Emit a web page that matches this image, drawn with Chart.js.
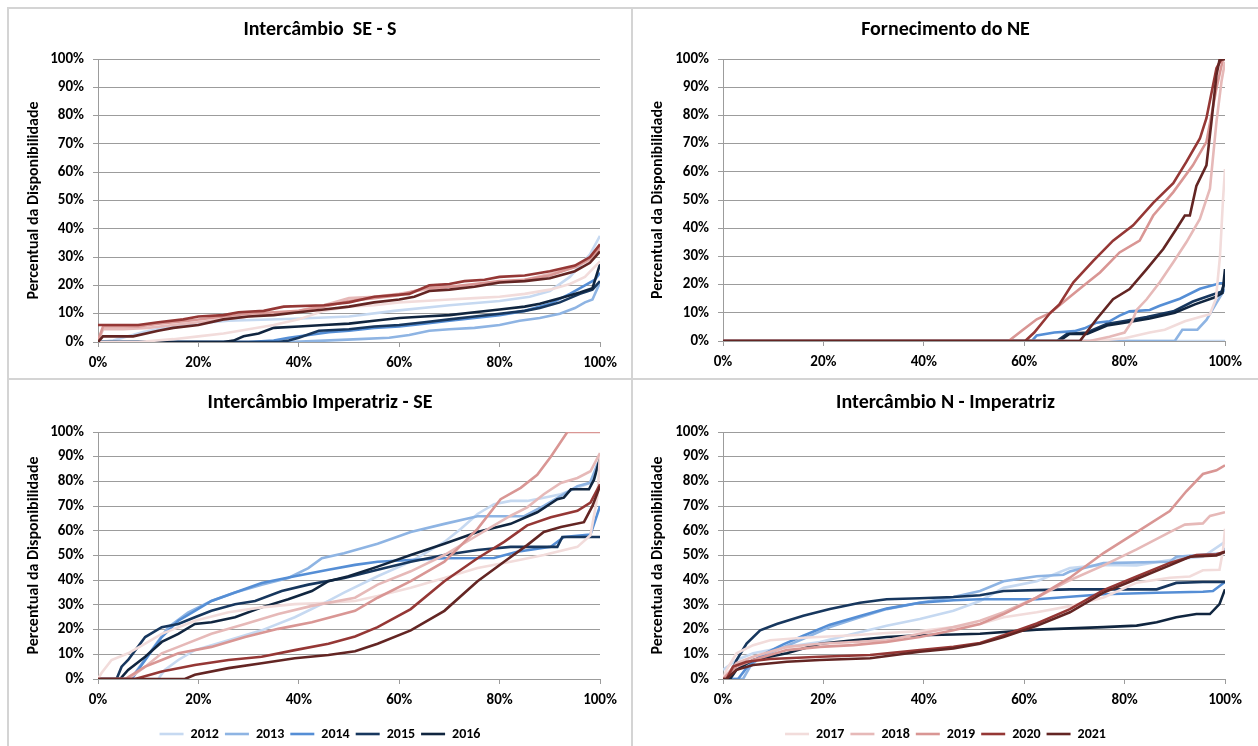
<!DOCTYPE html>
<html><head><meta charset="utf-8">
<script src="https://cdn.jsdelivr.net/npm/chart.js@4.4.1/dist/chart.umd.min.js"></script>
<style>
html,body{margin:0;padding:0;background:#fff;}
#wrap{position:relative;width:1258px;height:746px;overflow:hidden;background:#fff;}
.pnl{position:absolute;}
.ln{position:absolute;background:#d4d4d4;}
</style></head><body>
<div id="wrap">
 <div class="ln" style="left:7px;top:7px;width:1251px;height:2px"></div>
 <div class="ln" style="left:7px;top:7px;width:2px;height:739px"></div>
 <div class="ln" style="left:631px;top:7px;width:2px;height:739px"></div>
 <div class="ln" style="left:7px;top:378px;width:1251px;height:2px"></div>
 <div class="pnl" style="left:9px;top:9px"><canvas id="c0" width="622" height="369"></canvas></div>
 <div class="pnl" style="left:633px;top:9px"><canvas id="c1" width="625" height="369"></canvas></div>
 <div class="pnl" style="left:9px;top:380px"><canvas id="c2" width="622" height="366"></canvas></div>
 <div class="pnl" style="left:633px;top:380px"><canvas id="c3" width="625" height="366"></canvas></div>
</div>
<script>
const years = ['2012','2013','2014','2015','2016','2017','2018','2019','2020','2021'];
const colors = ['#c6d9f1','#8eb4e3','#558ed5','#17375e','#10253f','#f2dcdb','#e6b9b8','#d99694','#953735','#632523'];
const titles = ['Intercâmbio  SE - S','Fornecimento do NE','Intercâmbio Imperatriz - SE','Intercâmbio N - Imperatriz'];
const yAxisTitle = 'Percentual da Disponibilidade';

// [x %, y %] points for each year, panel "Intercâmbio SE - S"
const seS = [
 [[0,0],[3,0.5],[9,3.5],[16,6],[26,7.5],[39,8.2],[50,9],[59,11],[70,13],[80,14.5],[86,16],[90,18],[94,23],[98,31],[100,37.5]],
 [[0,0],[38,0],[45,0.5],[52,1],[58,1.5],[62,2.5],[66,4],[70,4.5],[75,5],[80,6],[84,7.5],[88,8.5],[92,10],[95,12],[97,14],[98.5,15],[100,21]],
 [[0,0],[30,0],[35,0.5],[38,1.5],[42,2.5],[46,3.5],[50,4],[55,5],[60,5.5],[65,6.5],[70,7.5],[75,8.5],[80,9.5],[85,11],[90,13.5],[94,17],[97,20],[99,22],[100,24.5]],
 [[0,0],[36,0],[38,0.5],[40,1.5],[44,4],[50,4.5],[55,5.5],[60,6],[65,7],[70,8],[75,9],[80,10],[85,11],[88,12],[92,14],[96,17],[98.5,18.5],[100,21.5]],
 [[0,0],[25,0],[27,0.5],[29,2],[32,3],[35,5],[40,5.5],[45,6],[50,6.5],[55,7.5],[60,8.5],[65,9],[70,9.5],[75,10.5],[80,11.5],[85,12.5],[88,13.5],[92,15.5],[96,17.5],[98.5,19],[100,27.5]],
 [[0,0],[8,0],[15,1],[20,2],[25,3],[30,4.5],[35,6],[40,8],[45,11],[50,12.5],[55,13],[60,14],[65,14.5],[70,15],[75,15.5],[80,16],[85,17],[90,18.5],[94,20.5],[97,23],[100,28.5]],
 [[0,0],[1,4.5],[5,4.5],[10,5],[15,6],[20,7],[25,8],[30,9],[35,10],[40,11],[45,13],[50,15.5],[55,16],[60,17],[65,18.5],[70,19.5],[75,20],[80,21],[85,22],[90,24],[95,26.5],[98,29],[100,33]],
 [[0,0.5],[1,5.5],[8,5.5],[12,6.5],[18,7.5],[25,9],[30,10],[35,10.5],[40,11],[45,12.5],[50,14.5],[55,15.5],[60,16.5],[65,19],[70,19.5],[75,20.5],[80,21.5],[85,22],[90,23.5],[95,26.5],[98,29.5],[100,33.5]],
 [[0,6],[8,6],[12,7],[17,8],[20,9],[25,9.5],[28,10.5],[33,11],[37,12.5],[45,13],[50,14],[55,16],[62,17],[66,20],[70,20.5],[73,21.5],[77,22],[80,23],[85,23.5],[90,25],[95,27],[98,30],[100,34.5]],
 [[0,0],[1,2],[7,2],[12,4],[15,5],[20,6],[25,8],[30,9],[35,9.5],[40,10.5],[45,11.5],[50,12.5],[55,14],[60,15],[63,16],[66,18],[70,18.5],[75,19.5],[80,21],[85,21.5],[90,22.5],[95,25],[98,28],[100,32]]
];

// panel "Fornecimento do NE"
const fornNE = [
 [[0,0],[100,0]],
 [[0,0],[90,0],[91.5,4],[94.5,4],[96.3,7.5],[98.3,13.5],[100,18.5]],
 [[0,0],[61.5,0],[62.5,2],[66,3],[70,3.5],[72,4.5],[74.4,6.5],[77,7],[79,9],[81,10.5],[85,11],[87,12.5],[91,15],[95,18.5],[99,20.5],[100,20.5]],
 [[0,0],[66.5,0],[68.5,2.5],[72.5,3],[76.4,6],[79.7,7],[84.4,8.5],[89.7,10.5],[93.6,14],[97.6,16.5],[99.3,17.5],[100,21]],
 [[0,0],[67,0],[69,2.5],[72.5,2.5],[76.5,5.5],[80,6.5],[85,8],[90,10],[94,13],[98,15.5],[99.5,17],[100,25.5]],
 [[0,0],[74,0],[80,1],[85,3],[88,4],[92,7],[95,8.5],[97,9.5],[98.2,15],[99,30],[99.6,50],[100,61]],
 [[0,0],[73,0],[77,1.5],[80,3],[81.5,7],[82.4,11],[84.4,14.8],[87,20.8],[89.7,27.9],[92.3,35],[95,43.3],[97,54],[98.3,77.7],[99.3,92],[100,99]],
 [[0,0],[56.9,0],[59.9,4.2],[62.5,7.7],[65.2,10],[68.5,14.8],[71.8,19.6],[75.1,24.3],[79,31.4],[83,35.6],[85.7,44.5],[89.7,52.8],[93.6,62.3],[96.3,70.6],[98.3,89.6],[99.6,100],[100,100]],
 [[0,0],[60.2,0],[62,3],[65.2,10],[67,13],[69.8,20.8],[73.8,28.5],[77.7,35.6],[81.7,41],[85.7,49],[89.7,56],[92.3,63.5],[95,71.8],[96.3,79],[98.3,96.7],[99.3,100],[100,100]],
 [[0,0],[71.1,0],[74.4,7.7],[77.7,14.8],[81,18.4],[84.4,25.5],[87.7,32.6],[90.3,39.7],[92,44.5],[93,44.5],[94.3,55],[96.3,62.3],[97.3,77.7],[98.3,94.3],[98.9,99.6],[100,100]]
];

// panel "Intercâmbio Imperatriz - SE"
const impSE = [
 [[0,0],[12,0],[13.3,3.7],[16,7.7],[19.3,11.7],[26,15.7],[32.6,19.7],[39.2,25],[45.9,31.6],[49,35],[55.7,41.6],[62.3,47.5],[69,55.5],[72.3,60.8],[75.6,66.8],[78.9,70.8],[82.2,72.1],[85.5,72.1],[88.8,73.4],[92.2,74.8],[95.5,77.4],[98,79.4],[100,87]],
 [[0,0],[6.7,0],[7.4,2.4],[10.7,11.7],[14,21],[18,27],[22.6,31.6],[27.3,35],[32.6,38.2],[37.9,40.9],[41.9,44.9],[44.6,48.9],[49,50.9],[55.7,54.8],[62.3,59.5],[69,62.8],[75.6,65.9],[84.9,65.9],[88.8,70.1],[92.2,74.1],[95.5,78.1],[98,79.4],[99.5,87],[100,88]],
 [[0,0],[6.7,0],[9.4,7.7],[12.7,17],[16,23.6],[19.3,27.6],[22.6,31.6],[27.3,35],[32.6,38.9],[39.2,41.6],[45.9,44.2],[51.2,46.2],[55.7,47.5],[62.3,48.2],[69,48.9],[78.9,49],[83.5,51.5],[90.2,53.5],[92.8,57.5],[98.1,58.5],[100,70]],
 [[0,0],[3.7,0],[4.7,5],[6,7.7],[9.4,17],[12.7,21],[16,22.3],[19.3,25],[22.6,27.6],[27.3,30.3],[31.3,31.6],[36.6,35.6],[41.9,38.2],[47.2,40.2],[49.1,40.9],[55.7,44.2],[62.3,47.5],[69,50.2],[75.6,52.2],[82.2,53.5],[91.5,53.5],[92.5,57.5],[100,57.5]],
 [[0,0],[4.4,0],[6,3.7],[9.4,9],[12.7,15],[16,18.3],[19.3,22.3],[22.6,23],[27.3,25],[32.6,29],[37.9,32.3],[42.6,35.6],[45.9,39.6],[49.9,41.6],[55.7,45.5],[62.3,50.2],[69,54.8],[75.6,59.5],[82.2,62.8],[87.5,67.5],[91.5,72.8],[92.8,73.4],[94.2,76.8],[97.8,76.8],[98.8,80.7],[100,89.4]],
 [[0,0],[0.7,2.4],[2.7,7.7],[6,10.4],[9.4,14.3],[12.7,18.3],[19.3,23.6],[26,27],[32.6,29],[39.2,30.3],[45.9,30.9],[51.2,31.6],[55.7,33.6],[62.3,36.9],[69,40.9],[75.6,44.9],[82.2,47.5],[88.8,50.2],[95.5,53.5],[98.1,58.2],[99.5,74],[100,91]],
 [[0,0],[6,0],[9.4,5],[12.7,10.4],[16,13],[22.6,18.3],[29.3,22.3],[35.9,26.3],[42.6,29.6],[51.2,32.9],[55.7,38.2],[62.3,43.6],[69,50.2],[75.6,58.2],[78.9,62.2],[82.2,66.1],[85.5,69.5],[88.8,74.8],[92.2,79.4],[95.5,81.4],[98.1,84.1],[100,91.5]],
 [[0,0],[5.4,0],[9.4,5],[12.7,7.7],[16,10.4],[22.6,13],[29.3,17],[35.9,20.3],[42.6,23],[51.2,27.6],[55.7,32.9],[62.3,39.6],[69,47.5],[75.6,60.8],[80.2,72.8],[84.2,77.4],[87.5,82.7],[90.2,90],[93.5,100],[100,100]],
 [[0,0],[7.4,0],[12.7,3],[19.3,5.7],[26,7.7],[32.6,9],[39.2,11.7],[45.9,14.3],[51.2,17.2],[55.7,21],[62.3,28.3],[69,39.6],[75.6,48.9],[80.9,55.5],[85.5,62.2],[90.2,65.5],[95.5,68.1],[98.1,71.4],[100,78.8]],
 [[0,0],[17.3,0],[19.3,1.7],[26,4.4],[32.6,6.4],[39.2,8.4],[45.9,9.7],[51.2,11.2],[55.7,14.3],[62.3,19.7],[69,27.6],[75.6,39.6],[80.9,47.5],[85.5,54.2],[88.8,59.5],[92.2,61.5],[96.8,63.5],[98.5,70.1],[100,78.1]]
];

// panel "Intercâmbio N - Imperatriz"
const nImp = [
 [[0,3.7],[2.7,7.7],[6,10.4],[12.7,13],[19.3,15],[26,18.3],[32.6,21.6],[39.2,24.3],[45.9,27.6],[51.2,31.6],[55.9,36.9],[62.5,39.6],[69.1,44.9],[75.8,46.2],[82.4,46],[89,48.2],[95.6,49.5],[100,55.5]],
 [[0,0],[4,0],[5.4,5],[7.4,9],[10.7,11.7],[16,16.3],[21.3,21],[27.3,25],[32.6,28.3],[39.2,30.9],[45.9,33.2],[51.2,35.6],[55.9,39.6],[62.5,41.6],[67.8,42.2],[69.1,43.5],[75.8,46.9],[89,47.5],[90.3,49.5],[99.6,50.9],[100,53]],
 [[0,0],[3,0],[4.5,4],[6.5,8],[9,11],[12,14],[16,17.5],[21.3,22],[27.3,25.5],[32.6,28.5],[39.2,30.9],[45.9,31.9],[51.2,32.3],[62.5,32.3],[75.8,34.3],[86.4,34.9],[95.6,35.3],[97.6,35.6],[100,39.3]],
 [[0,0],[1.5,2],[2.7,7.7],[4.7,14.3],[7.4,19.7],[10.7,22.3],[16,25.6],[21.3,28.3],[27.3,30.9],[32.6,32.3],[39.2,32.7],[45.9,33.2],[51.2,33.9],[55.9,35.6],[62.5,36],[69.1,36.3],[86.4,36.3],[90.3,38.9],[95.6,39.3],[100,39.3]],
 [[0,0],[1.4,0],[2.7,3.7],[6,7.7],[12.7,10.4],[19.3,14.3],[26,15.7],[32.6,17],[39.2,17.7],[45.9,18],[51.2,18.3],[62.5,20],[75.8,21],[82.4,21.6],[86.4,23],[90.3,25],[94.3,26.3],[97,26.3],[98.9,30.3],[100,36.3]],
 [[0,0],[0.7,3.7],[2.7,10.4],[6,13.7],[9.4,15.7],[16,16.7],[26,17.7],[32.6,18.6],[39.2,19.4],[45.9,21],[51.2,22.3],[55.9,25],[62.5,27],[69.1,29.5],[75.8,33],[82.4,39],[89,41],[93,41.5],[95.6,44],[98.9,44.2],[99.6,52],[100,60.8]],
 [[0,0],[2.7,6.4],[6,9],[12.7,13],[19.3,14.3],[26,15],[32.6,15.7],[39.2,18.3],[45.9,21],[51.2,23.6],[55.9,27],[62.5,33],[69.1,40],[75.8,46],[82.4,52.5],[89,59.5],[92,62.5],[95.6,63],[97,66],[100,67.5]],
 [[0,0],[2.7,5],[6,7.7],[12.7,11.7],[19.3,13],[26,13.7],[32.6,15],[39.2,17],[45.9,19.7],[51.2,22.3],[55.9,26.3],[62.5,33],[69.1,41],[75.8,51],[82.4,59.5],[89,68],[92.3,76],[95.6,83],[98.3,84.5],[100,86.5]],
 [[0,0],[0.7,0],[2,5],[4.7,7],[9.4,8.1],[19.3,9],[29.3,9.7],[39.2,11.7],[45.9,13],[51.2,14.6],[55.9,17.7],[62.5,22.5],[69.1,28.3],[75.8,36],[82.4,41.5],[89,47],[94.3,50.2],[98.3,50.5],[100,51.5]],
 [[0,0],[0.7,0],[2.7,3.7],[6,5.7],[12.7,7],[19.3,7.7],[29.3,8.4],[39.2,11],[45.9,12.4],[51.2,14.3],[55.9,17],[62.5,21.5],[69.1,27],[75.8,35],[82.4,40.5],[89,46],[93,49.5],[98.3,50],[100,51.5]]
];

Chart.defaults.font.family = "Carlito, Lato, 'Liberation Sans', sans-serif";
Chart.defaults.color = '#000';
const GRID = '#9c9c9c';

function makeChart(id, title, series, legendRange, geo) {
  const datasets = series.map((pts, i) => ({
    label: years[i],
    data: pts.map(p => ({x: p[0], y: p[1]})),
    borderColor: colors[i],
    backgroundColor: colors[i],
    borderWidth: 2.6,
    pointRadius: 0,
    tension: 0,
    fill: false,
    order: 10 - i
  }));
  const ctx = document.getElementById(id);
  return new Chart(ctx, {
    type: 'line',
    data: {datasets},
    options: {
      responsive: false,
      animation: false,
      devicePixelRatio: 1,
      layout: {padding: {left: 0, right: 0, top: 0, bottom: geo.padBottom || 0}},
      plugins: {
        tooltip: {enabled: false},
        title: {
          display: true, text: title,
          font: {size: 20, weight: 'bold'}, color: '#000',
          padding: {top: geo.titleTop, bottom: geo.titleBottom}
        },
        legend: {
          display: !!legendRange,
          position: 'bottom',
          labels: {
            usePointStyle: true, pointStyle: 'line', pointStyleWidth: 24,
            padding: 6, color: '#000',
            font: {size: 14, weight: 'bold'},
            filter: (item) => legendRange ? (item.datasetIndex >= legendRange[0] && item.datasetIndex <= legendRange[1]) : true,
            sort: (a, b) => a.datasetIndex - b.datasetIndex
          }
        }
      },
      scales: {
        x: {
          type: 'linear', min: 0, max: 100,
          ticks: {stepSize: 20, callback: v => v + '%', font: {size: 15, weight: 'bold'}, color: '#000', padding: 7, maxRotation: 0},
          grid: {display: true, drawOnChartArea: false, drawTicks: true, tickLength: 5, color: GRID},
          border: {display: true, color: GRID, width: 1},
          afterFit: s => { s.height = geo.xH; }
        },
        y: {
          type: 'linear', min: 0, max: 100,
          ticks: {stepSize: 10, callback: v => v + '%', font: {size: 15, weight: 'bold'}, color: '#000', padding: 9},
          grid: {color: GRID, tickLength: 5, lineWidth: 1},
          border: {display: true, color: GRID, width: 1},
          title: {display: true, text: yAxisTitle, font: {size: 16, weight: 'bold'}, color: '#000', padding: {top: 15, bottom: 0}},
          afterFit: s => { s.width = geo.yW; }
        },
        yR: {
          type: 'linear', position: 'right', display: true, min: 0, max: 100,
          ticks: {display: false},
          grid: {display: false, drawTicks: false},
          border: {display: false},
          afterFit: s => { s.width = geo.padRight; }
        }
      }
    }
  });
}

makeChart('c0', titles[0], seS, null, {yW: 89, xH: 36, padRight: 31, titleTop: 9, titleBottom: 17});
makeChart('c1', titles[1], fornNE, null, {yW: 90, xH: 37, padRight: 33, titleTop: 9, titleBottom: 17});
makeChart('c2', titles[2], impSE, [0, 4], {yW: 89, xH: 42, padRight: 31, titleTop: 11, titleBottom: 17, padBottom: -5});
makeChart('c3', titles[3], nImp, [5, 9], {yW: 90, xH: 42, padRight: 33, titleTop: 11, titleBottom: 17, padBottom: -5});
</script>
</body></html>
